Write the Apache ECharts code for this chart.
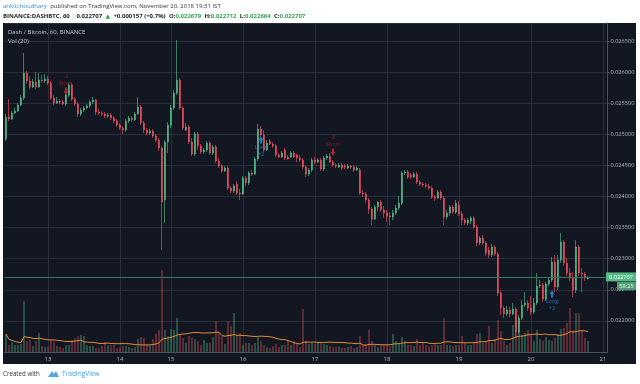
<!DOCTYPE html>
<html>
<head>
<meta charset="utf-8">
<script src="https://cdn.jsdelivr.net/npm/echarts@6/dist/echarts.min.js"></script>
<style>
html,body{margin:0;padding:0;background:#ffffff;overflow:hidden;}
#panel{position:absolute;left:3px;top:23px;width:633px;height:341px;background:#131722;}
#chart{position:absolute;left:0;top:0;width:640px;height:384px;}
</style>
</head>
<body>
<div id="panel"></div>
<div id="chart"></div>
<script>
// ---------- DATA (DASH/BTC, Binance, 60 min) ----------
const sessions = [
  ['2018-11-12', 10, 23], ['2018-11-13', 0, 23],
  ['2018-11-14', 0, 4], ['2018-11-14', 12, 23],
  ['2018-11-15', 0, 23], ['2018-11-16', 0, 23], ['2018-11-17', 0, 23],
  ['2018-11-18', 0, 23], ['2018-11-19', 0, 23], ['2018-11-20', 0, 19]
];
const futureSessions = [['2018-11-20', 20, 23], ['2018-11-21', 0, 1]];

const opens = [
0.024924,0.025278,0.025246,0.025342,0.025374,0.025471,0.025583,0.025985,0.025857,0.025760,
0.025841,0.025760,0.025873,0.025857,0.025889,0.025825,0.025583,0.025503,0.025535,0.025519,
0.025487,0.025632,0.025792,0.025567,0.025487,0.025326,0.025390,0.025423,0.025455,0.025519,
0.025551,0.025358,0.025342,0.025326,0.025294,0.025310,0.025262,0.025214,0.025149,0.025101,
0.025069,0.025214,0.025262,0.025230,0.025326,0.025439,0.025181,0.025069,0.025021,0.025053,
0.024972,0.024908,0.024779,0.023943,0.024876,0.025149,0.025423,0.025664,0.025873,0.025423,
0.025069,0.025117,0.024876,0.024683,0.025005,0.024812,0.024715,0.024747,0.024860,0.024699,
0.024796,0.024570,0.024490,0.024410,0.024458,0.024136,0.024088,0.024201,0.024056,0.024040,
0.024297,0.024217,0.024378,0.024361,0.024603,0.025085,0.024988,0.024747,0.024892,0.024844,
0.024812,0.024667,0.024635,0.024747,0.024635,0.024635,0.024699,0.024667,0.024619,0.024587,
0.024474,0.024361,0.024426,0.024587,0.024554,0.024587,0.024442,0.024619,0.024651,0.024554,
0.024506,0.024474,0.024506,0.024490,0.024458,0.024490,0.024474,0.024426,0.024426,0.024056,
0.024040,0.023943,0.023799,0.023638,0.023831,0.023911,0.023782,0.023734,0.023686,0.023670,
0.023734,0.023815,0.023895,0.024378,0.024394,0.024345,0.024313,0.024361,0.024233,0.024201,
0.024185,0.024168,0.024136,0.023992,0.023976,0.024072,0.023976,0.023670,0.023734,0.023831,
0.023750,0.023863,0.023718,0.023622,0.023573,0.023606,0.023654,0.023509,0.023252,0.023332,
0.023252,0.023139,0.023059,0.023188,0.023075,0.022448,0.022207,0.022110,0.022175,0.022110,
0.022191,0.021821,0.022046,0.022255,0.022287,0.022207,0.022142,0.022287,0.022561,0.022577,
0.022351,0.022593,0.022657,0.022946,0.022544,0.022978,0.023268,0.022930,0.022770,0.022689,
0.022496,0.023188,0.022770,0.022753,0.022679
];
const closes = [
0.025278,0.025246,0.025342,0.025374,0.025471,0.025583,0.025985,0.025857,0.025760,0.025841,
0.025760,0.025873,0.025857,0.025889,0.025825,0.025583,0.025503,0.025535,0.025519,0.025487,
0.025632,0.025792,0.025567,0.025487,0.025326,0.025390,0.025423,0.025455,0.025519,0.025551,
0.025358,0.025342,0.025326,0.025294,0.025310,0.025262,0.025214,0.025149,0.025101,0.025069,
0.025214,0.025262,0.025230,0.025326,0.025439,0.025181,0.025069,0.025021,0.025053,0.024972,
0.024908,0.024779,0.023911,0.024876,0.025149,0.025423,0.025664,0.025873,0.025423,0.025101,
0.025117,0.024876,0.024683,0.025005,0.024812,0.024715,0.024747,0.024860,0.024699,0.024796,
0.024570,0.024490,0.024410,0.024458,0.024136,0.024088,0.024168,0.024056,0.024040,0.024297,
0.024217,0.024378,0.024361,0.024603,0.025085,0.024988,0.024747,0.024860,0.024844,0.024812,
0.024667,0.024635,0.024699,0.024619,0.024603,0.024699,0.024635,0.024619,0.024587,0.024474,
0.024361,0.024426,0.024587,0.024554,0.024587,0.024442,0.024619,0.024651,0.024554,0.024506,
0.024490,0.024506,0.024458,0.024474,0.024490,0.024474,0.024426,0.024458,0.024056,0.024040,
0.023943,0.023799,0.023638,0.023831,0.023911,0.023782,0.023734,0.023686,0.023670,0.023734,
0.023815,0.023895,0.024378,0.024394,0.024313,0.024313,0.024361,0.024233,0.024201,0.024185,
0.024168,0.024136,0.023992,0.023976,0.024072,0.023976,0.023670,0.023734,0.023831,0.023750,
0.023895,0.023718,0.023622,0.023573,0.023622,0.023654,0.023509,0.023252,0.023332,0.023252,
0.023091,0.023059,0.023188,0.023075,0.022448,0.022207,0.022110,0.022175,0.022110,0.022191,
0.021821,0.022046,0.022255,0.022287,0.022207,0.022142,0.022287,0.022561,0.022577,0.022351,
0.022593,0.022657,0.022946,0.022544,0.022978,0.023268,0.022930,0.022770,0.022689,0.022496,
0.023188,0.022770,0.022753,0.022689,0.022707
];
const highs = [
0.025326,0.025567,0.025374,0.025423,0.025503,0.025632,0.026307,0.026018,0.025937,0.025889,
0.026002,0.025985,0.025953,0.025969,0.025937,0.025857,0.025632,0.025600,0.025567,0.025551,
0.025680,0.025825,0.025825,0.025600,0.025519,0.025423,0.025455,0.025487,0.025551,0.025600,
0.025567,0.025407,0.025374,0.025358,0.025342,0.025342,0.025294,0.025246,0.025181,0.025133,
0.025246,0.025294,0.025294,0.025358,0.025600,0.025471,0.025214,0.025101,0.025085,0.025085,
0.025005,0.024940,0.024812,0.024908,0.025198,0.025471,0.025712,0.026516,0.025905,0.025455,
0.025181,0.025149,0.024940,0.025037,0.025037,0.024844,0.024779,0.024892,0.024892,0.024828,
0.024828,0.024619,0.024522,0.024490,0.024490,0.024168,0.024201,0.024249,0.024120,0.024329,
0.024329,0.024410,0.024426,0.024635,0.025165,0.025133,0.025069,0.024908,0.024924,0.024876,
0.024844,0.024699,0.024731,0.024779,0.024667,0.024731,0.024731,0.024683,0.024667,0.024619,
0.024506,0.024458,0.024619,0.024635,0.024619,0.024619,0.024651,0.024683,0.024699,0.024587,
0.024538,0.024538,0.024538,0.024522,0.024522,0.024506,0.024506,0.024490,0.024458,0.024104,
0.024072,0.023976,0.023831,0.023863,0.023927,0.023943,0.023847,0.023782,0.023750,0.023782,
0.023863,0.024008,0.024410,0.024426,0.024426,0.024378,0.024394,0.024394,0.024265,0.024233,
0.024217,0.024201,0.024168,0.024024,0.024104,0.024104,0.024008,0.023782,0.023863,0.023863,
0.023943,0.023927,0.023766,0.023654,0.023654,0.023686,0.023686,0.023541,0.023364,0.023381,
0.023284,0.023188,0.023236,0.023220,0.023107,0.022480,0.022239,0.022239,0.022223,0.022287,
0.022223,0.022094,0.022335,0.022464,0.022335,0.022400,0.022368,0.022770,0.022657,0.022609,
0.022625,0.022689,0.023027,0.023059,0.023059,0.023413,0.023300,0.023011,0.022850,0.022786,
0.023300,0.023220,0.022850,0.022786,0.022712
];
const lows = [
0.024892,0.025214,0.025230,0.025326,0.025358,0.025455,0.025551,0.025809,0.025728,0.025744,
0.025728,0.025744,0.025825,0.025825,0.025792,0.025551,0.025471,0.025487,0.025487,0.025471,
0.025455,0.025600,0.025535,0.025455,0.025278,0.025294,0.025358,0.025407,0.025423,0.025487,
0.025310,0.025310,0.025294,0.025262,0.025262,0.025230,0.025181,0.025117,0.025069,0.025005,
0.025037,0.025181,0.025198,0.025214,0.025310,0.025149,0.025021,0.024988,0.024988,0.024940,
0.024876,0.024731,0.023139,0.023573,0.024699,0.025101,0.025390,0.025632,0.025390,0.025069,
0.025053,0.024844,0.024651,0.024651,0.024747,0.024683,0.024683,0.024715,0.024667,0.024667,
0.024538,0.024458,0.024378,0.024394,0.024104,0.024056,0.024056,0.024024,0.023943,0.024024,
0.024168,0.024185,0.024329,0.024345,0.024570,0.024956,0.024715,0.024731,0.024828,0.024779,
0.024635,0.024619,0.024619,0.024587,0.024587,0.024619,0.024619,0.024554,0.024554,0.024442,
0.024313,0.024329,0.024394,0.024522,0.024538,0.024410,0.024410,0.024587,0.024538,0.024474,
0.024458,0.024458,0.024426,0.024442,0.024442,0.024442,0.024394,0.024410,0.024024,0.023992,
0.023895,0.023718,0.023541,0.023622,0.023766,0.023750,0.023654,0.023590,0.023541,0.023622,
0.023702,0.023782,0.023863,0.024345,0.024281,0.024281,0.024297,0.024201,0.024168,0.024152,
0.024136,0.024104,0.023959,0.023927,0.023959,0.023943,0.023541,0.023638,0.023686,0.023718,
0.023718,0.023686,0.023541,0.023541,0.023541,0.023557,0.023477,0.023204,0.023220,0.023220,
0.023043,0.023011,0.023027,0.023043,0.022400,0.022094,0.022046,0.022078,0.022062,0.022094,
0.021740,0.021789,0.022014,0.022223,0.022158,0.022094,0.022110,0.022255,0.022528,0.022303,
0.022319,0.022561,0.022625,0.022464,0.022496,0.022930,0.022882,0.022721,0.022641,0.022384,
0.022448,0.022721,0.022464,0.022641,0.022664
];
const volumes = [
360,140,200,140,140,160,1010,220,240,120,
220,380,120,100,100,240,220,120,100,80,
140,140,240,280,320,340,320,140,120,120,
80,80,120,200,140,140,140,80,100,120,
120,100,80,100,260,300,280,160,140,260,
360,440,1640,440,320,460,440,680,340,280,
180,320,280,260,220,140,240,180,180,300,
620,380,320,160,620,520,780,340,380,140,
180,180,140,180,300,220,140,100,80,120,
160,100,140,140,240,140,220,180,100,860,
220,160,180,160,200,180,160,140,120,100,
100,100,80,80,100,120,80,100,320,140,
140,440,220,140,100,140,140,140,120,360,
220,160,300,220,140,140,120,260,140,180,
140,120,140,180,140,140,680,140,140,120,
140,140,320,180,140,140,180,360,380,180,
220,520,180,260,640,420,220,140,180,540,
680,440,340,380,440,340,220,440,260,220,
300,240,220,280,360,460,480,580,880,440,
780,780,420,280,220
];
// trade signals drawn by the strategy
const signalBars  = [20, 109, 85, 182];
const signalPrice = [0.025696, 0.024715, 0.024908, 0.022432];
const signalSide  = ['Short', 'Short', 'Long', 'Long'];
const signalQty   = ['-2', '-2', '+2', '+2'];

const headerAuthor = 'ankitchoudhary';
const headerPublished = 'published on TradingView.com, November 20, 2018 19:31 IST';
const symbolName = 'BINANCE:DASHBTC, 60';
const changeText = '+0.000157 (+0.7%)';
const paneTitle = 'Dash / Bitcoin, 60, BINANCE';
const volTitle = 'Vol (20)';
const countdown = '58:25';

// ---------- BUILD ----------
function hoursOf(list) {
  const out = [];
  list.forEach(([d, a, b]) => { for (let h = a; h <= b; h++) out.push(d + ' ' + String(h).padStart(2, '0') + ':00'); });
  return out;
}
const barTimes = hoursOf(sessions);
const axisTimes = barTimes.concat(hoursOf(futureSessions));

const UP = '#53b987', DOWN = '#eb4d5c';
const UP_WICK = 'rgba(83,185,135,0.65)', DOWN_WICK = 'rgba(235,77,92,0.65)';
const TXT = '#b2b5be';
const GRIDC = '#2a2e39';
const AXC = '#4c525e';
const FONT = 'Open Sans, DejaVu Sans, sans-serif';
const PLOT_LEFT = 4.5, PLOT_W = 603;

const candles = opens.map((o, i) => [o, closes[i], lows[i], highs[i]]);
const bodies = opens.map((o, i) => [o, closes[i], Math.min(o, closes[i]), Math.max(o, closes[i])]);
const volData = volumes.map((v, i) => ({
  value: v,
  itemStyle: { color: closes[i] >= opens[i] ? 'rgba(83,185,135,0.35)' : 'rgba(235,77,92,0.35)' }
}));
const volMA = volumes.map((v, i) => {
  const s = Math.max(0, i - 19); let sum = 0;
  for (let k = s; k <= i; k++) sum += volumes[k];
  return sum / (i - s + 1);
});
const last = opens.length - 1;
const lastClose = closes[last];
const isDayStart = (idx, val) => typeof val === 'string' && val.slice(11) === '00:00';

const DOWN_ARROW = 'path://M3,0L7,0L7,5L10,5L5,10L0,5L3,5Z';
const UP_ARROW = 'path://M5,0L10,5L7,5L7,10L3,10L3,5L0,5Z';
const signalData = signalBars.map((b, k) => {
  const isShort = signalSide[k] === 'Short';
  const col = isShort ? '#e0282e' : '#2196f3';
  return {
    value: [b, signalPrice[k]],
    symbol: isShort ? DOWN_ARROW : UP_ARROW,
    itemStyle: { color: col },
    label: {
      show: true, position: isShort ? 'top' : 'bottom', distance: 1,
      formatter: isShort ? signalQty[k] + '\n' + signalSide[k] : signalSide[k] + '\n' + signalQty[k],
      color: isShort ? '#b71c1c' : '#1e88e5', fontSize: 5.5, lineHeight: 6.5, fontFamily: FONT
    }
  };
});

const chart = echarts.init(document.getElementById('chart'), null, { renderer: 'canvas' });
chart.setOption({
  backgroundColor: 'transparent',
  animation: false,
  grid: [
    { left: PLOT_LEFT, top: 23, width: PLOT_W, height: 329 },
    { left: PLOT_LEFT, top: 252, width: PLOT_W, height: 100 }
  ],
  xAxis: [
    {
      type: 'category', gridIndex: 0, data: axisTimes, boundaryGap: true,
      axisLine: { show: true, lineStyle: { color: AXC } },
      axisTick: { show: false },
      axisLabel: { interval: isDayStart, formatter: v => String(+v.slice(8, 10)), color: TXT, fontSize: 6, margin: 4, fontFamily: FONT },
      splitLine: { show: true, interval: isDayStart, alignWithLabel: true, lineStyle: { color: GRIDC, width: 1 } }
    },
    { type: 'category', gridIndex: 1, data: axisTimes, boundaryGap: true, show: false }
  ],
  yAxis: [
    {
      type: 'value', gridIndex: 0, position: 'right', min: 0.0215, max: 0.026789, interval: 0.0005,
      axisLine: { show: true, lineStyle: { color: AXC } },
      axisTick: { show: true, length: 2, lineStyle: { color: AXC } },
      axisLabel: { color: TXT, fontSize: 5.6, margin: 3, fontFamily: FONT, formatter: v => v.toFixed(6), showMinLabel: false, showMaxLabel: false },
      splitLine: { show: true, lineStyle: { color: GRIDC, width: 1 } }
    },
    { type: 'value', gridIndex: 1, min: 0, max: 2000, show: false, splitLine: { show: false } }
  ],
  series: [
    { name: 'Volume', type: 'bar', xAxisIndex: 1, yAxisIndex: 1, data: volData, barWidth: 2, z: 1, silent: true },
    { name: 'Vol MA 20', type: 'line', xAxisIndex: 1, yAxisIndex: 1, data: volMA, symbol: 'none', z: 2, silent: true,
      lineStyle: { color: '#e08a35', width: 1 } },
    {
      name: 'Wicks', type: 'candlestick', xAxisIndex: 0, yAxisIndex: 0, data: candles, barWidth: 0.5, z: 3, silent: true,
      itemStyle: { color: UP_WICK, color0: DOWN_WICK, borderColor: UP_WICK, borderColor0: DOWN_WICK, borderWidth: 1 }
    },
    {
      name: 'Bodies', type: 'candlestick', xAxisIndex: 0, yAxisIndex: 0, data: bodies, barWidth: 2.4, z: 4, silent: true,
      itemStyle: { color: UP, color0: DOWN, borderColor: UP, borderColor0: DOWN, borderWidth: 0.6 }
    },
    { name: 'Signals', type: 'scatter', xAxisIndex: 0, yAxisIndex: 0, data: signalData, symbolSize: [5, 7], z: 5, silent: true }
  ]
});

// current-price line and its axis tag, placed through the price scale
const py = chart.convertToPixel({ yAxisIndex: 0 }, lastClose);
const lineY = Math.round(py) + 0.5;
chart.setOption({
  graphic: [
    { type: 'line', z: 6, shape: { x1: PLOT_LEFT, y1: lineY, x2: PLOT_LEFT + PLOT_W, y2: lineY },
      style: { stroke: '#2f7a58', lineWidth: 1 } },
    { type: 'rect', z: 10, shape: { x: 606, y: py - 4.5, width: 30, height: 9 }, style: { fill: UP } },
    { type: 'text', z: 11, x: 621, y: py, style: { text: lastClose.toFixed(6), fill: '#ffffff', font: '5.6px ' + FONT, align: 'center', verticalAlign: 'middle' } },
    { type: 'rect', z: 10, shape: { x: 617, y: py + 5, width: 19, height: 8 }, style: { fill: '#4f9e78' } },
    { type: 'text', z: 11, x: 626.5, y: py + 9, style: { text: countdown, fill: '#e8f5ee', font: '5.6px ' + FONT, align: 'center', verticalAlign: 'middle' } },
    { type: 'text', x: 3, y: 6, z: 10, style: {
        text: '{u|' + headerAuthor + '} {t|' + headerPublished + '}', verticalAlign: 'middle',
        rich: { u: { fill: '#2e8fd8', font: '6px ' + FONT }, t: { fill: '#333333', font: '6px ' + FONT } } } },
    { type: 'text', x: 3, y: 16, z: 10, style: {
        text: '{b|' + symbolName + '}  {b|' + lastClose.toFixed(6) + '} {g|▲} {b|' + changeText + '} {b|O:}{g|' + opens[last].toFixed(6) +
              '} {b|H:}{g|' + highs[last].toFixed(6) + '} {b|L:}{g|' + lows[last].toFixed(6) + '} {b|C:}{g|' + closes[last].toFixed(6) + '}',
        verticalAlign: 'middle',
        rich: { b: { fill: '#222222', font: 'bold 6px ' + FONT }, g: { fill: '#2fa84f', font: 'bold 6px ' + FONT } } } },
    { type: 'text', x: 8, y: 32, z: 10, style: { text: paneTitle, fill: '#c9ccd4', font: '6px ' + FONT, verticalAlign: 'middle' } },
    { type: 'text', x: 8, y: 41, z: 10, style: { text: volTitle, fill: '#c9ccd4', font: '6px ' + FONT, verticalAlign: 'middle' } },
    { type: 'rect', z: 10, shape: { x: 605, y: 353, width: 31, height: 11 }, style: { fill: '#131722' } },
    { type: 'text', x: 3, y: 374, z: 10, style: { text: 'Created with', fill: '#333333', font: '6.2px ' + FONT, verticalAlign: 'middle' } },
    { type: 'polygon', z: 10, shape: { points: [[48,377],[52,371],[54,374],[56,371],[59,377]] }, style: { fill: '#53a9e8' } },
    { type: 'text', x: 62, y: 374, z: 10, style: { text: 'TradingView', fill: '#47a3e6', font: '6.6px ' + FONT, verticalAlign: 'middle' } }
  ]
});
</script>
</body>
</html>
